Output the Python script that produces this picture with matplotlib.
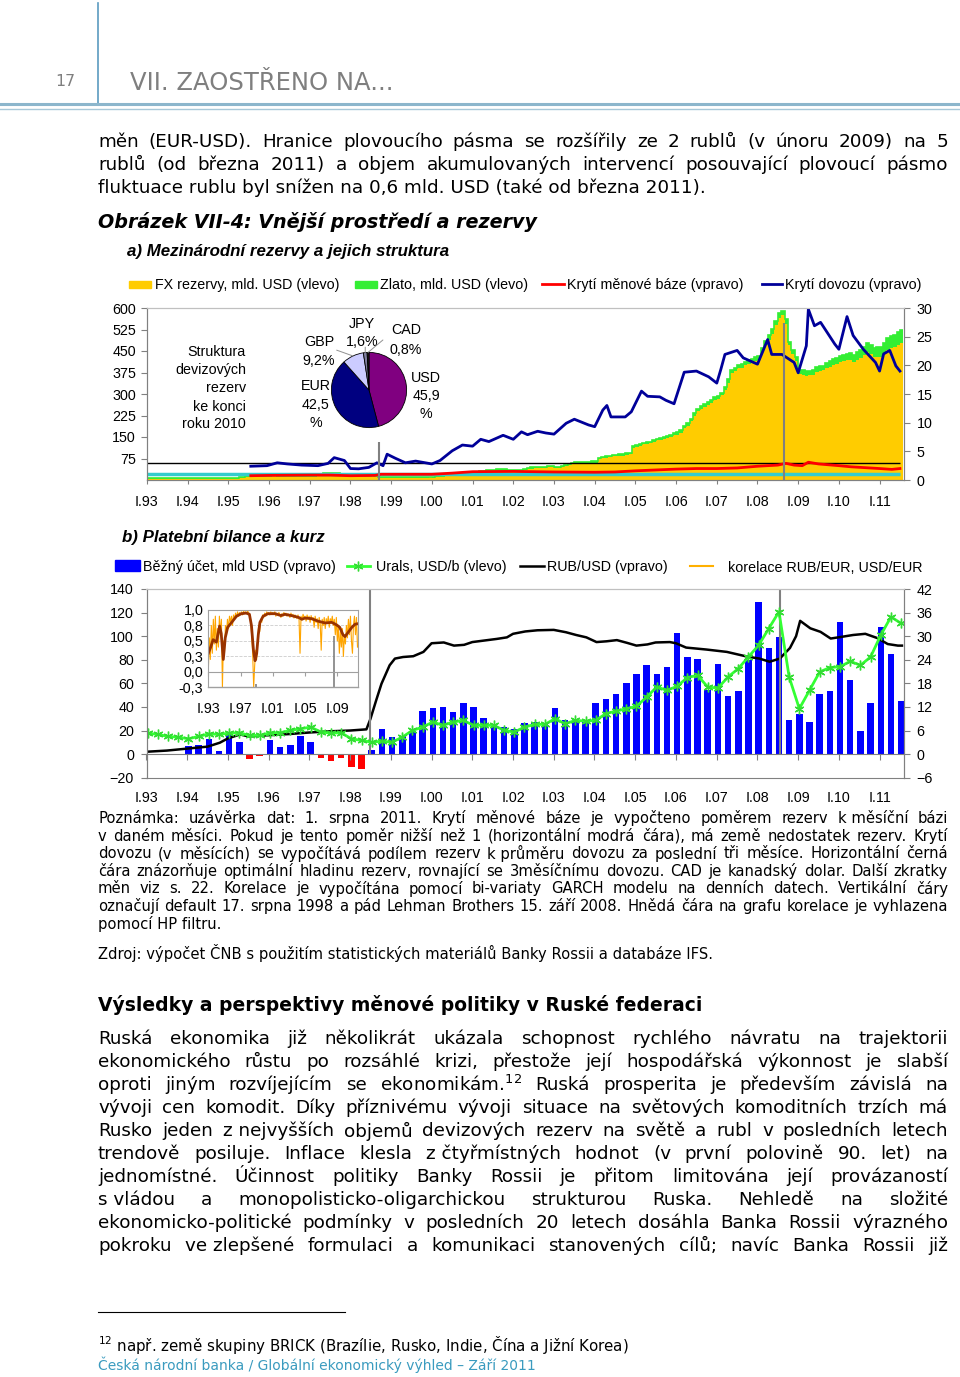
import matplotlib
matplotlib.use("Agg")
import matplotlib.pyplot as plt
import numpy as np
from matplotlib.lines import Line2D
from matplotlib.patches import Rectangle

W, H = 960, 1377
ARIAL = ["Liberation Sans", "DejaVu Sans"]
NARROW = ["Liberation Sans Narrow", "Liberation Sans", "DejaVu Sans"]
VERDANA = ["DejaVu Sans"]
CH = 10.3     # velikost pisma v grafech
BODY = 13.2   # velikost pisma textu
NOTE = 10.6   # velikost pisma poznamky

# ---------------- a) mezinarodni rezervy, mesicne od I.93 (mld. USD) ----------------
fx_rezervy = [
    2, 2, 2, 2, 2, 3, 3, 3, 3, 3, 3, 3,                       # 1993
    3, 3, 3, 3, 3, 3, 3, 3, 2, 2, 2, 2,                       # 1994
    2, 2, 4, 6, 8, 10, 11, 12, 11, 11, 11, 10,                # 1995
    12, 13, 12, 11, 10, 9, 9, 9, 9, 9, 10, 11,                # 1996
    11, 12, 13, 16, 19, 20, 20, 20, 19, 17, 16, 13,           # 1997
    13, 13, 13, 13, 12, 11, 13, 9, 8, 8, 8, 8,                # 1998
    8, 8, 7, 7, 7, 8, 8, 8, 8, 8, 8, 9,                       # 1999
    8, 9, 10, 12, 13, 14, 16, 18, 20, 21, 21, 24,             # 2000
    24, 25, 26, 28, 30, 31, 32, 33, 33, 33, 32, 32,           # 2001
    31, 31, 32, 34, 38, 40, 41, 41, 42, 43, 44, 44,           # 2002
    42, 43, 45, 48, 52, 56, 58, 58, 57, 57, 58, 60,           # 2003
    60, 72, 76, 78, 80, 82, 83, 84, 85, 88, 90, 112,          # 2004
    116, 120, 124, 125, 128, 132, 138, 140, 143, 146, 150, 156,  # 2005
    158, 165, 180, 190, 205, 225, 240, 248, 255, 262, 270, 280,  # 2006
    282, 295, 315, 340, 372, 380, 390, 392, 400, 405, 410, 415,  # 2007
    418, 445, 470, 490, 510, 540, 565, 575, 545, 470, 440, 414,  # 2008
    370, 368, 364, 366, 367, 378, 380, 382, 390, 395, 400, 404,  # 2009
    412, 415, 418, 420, 410, 418, 425, 435, 447, 440, 430, 430,  # 2010
    430, 440, 455, 462, 465, 472, 478,                        # 2011
]
zlato = [
    4, 4, 4, 4, 4, 4, 4, 4, 4, 4, 4, 4,
    4, 4, 4, 4, 4, 4, 4, 4, 4, 4, 4, 4,
    4, 4, 4, 4, 4, 4, 4, 4, 4, 4, 4, 4,
    4, 4, 4, 4, 4, 4, 4, 4, 4, 4, 4, 4,
    4, 4, 4, 4, 4, 4, 4, 4, 4, 4, 4, 4,
    4, 4, 4, 4, 4, 4, 4, 4, 4, 4, 4, 4,
    3, 3, 3, 3, 3, 3, 3, 3, 3, 3, 3, 3,
    4, 4, 4, 4, 4, 4, 4, 4, 4, 4, 4, 4,
    4, 4, 4, 4, 4, 4, 4, 4, 4, 4, 4, 4,
    4, 4, 4, 4, 4, 4, 4, 4, 4, 4, 4, 4,
    4, 4, 4, 4, 4, 4, 5, 5, 5, 5, 5, 5,
    5, 5, 5, 5, 5, 5, 5, 5, 5, 5, 5, 6,
    6, 6, 6, 6, 6, 6, 6, 6, 7, 7, 7, 7,
    8, 8, 8, 8, 9, 9, 9, 9, 9, 9, 10, 10,
    10, 10, 11, 11, 11, 11, 11, 11, 12, 13, 13, 13,
    15, 16, 16, 15, 16, 16, 16, 15, 15, 13, 13, 14,
    14, 14, 15, 15, 16, 16, 16, 17, 18, 19, 21, 22,
    22, 22, 23, 24, 26, 27, 27, 28, 30, 31, 32, 33,
    35, 37, 39, 40, 42, 44, 45,
]

# kryti dovozu (mesice) a kryti menove baze (vpravo)
kryti_dovozu_t = [1995.55, 1995.95, 1996.2, 1996.45, 1996.8, 1997.2, 1997.45, 1997.6, 1997.85,
                  1998.0, 1998.2, 1998.45, 1998.65, 1998.8, 1998.9, 1999.1, 1999.35, 1999.6,
                  2000.0, 2000.2, 2000.5, 2000.75, 2001.0, 2001.2, 2001.4, 2001.75, 2002.0,
                  2002.2, 2002.35, 2002.6, 2002.8, 2003.0, 2003.3, 2003.5, 2003.85, 2004.0,
                  2004.2, 2004.3, 2004.4, 2004.75, 2004.9, 2005.15, 2005.3, 2005.6, 2005.75,
                  2005.95, 2006.2, 2006.5, 2006.8, 2007.0, 2007.1, 2007.2, 2007.5, 2007.65,
                  2008.0, 2008.25, 2008.35, 2008.6, 2008.9, 2009.0, 2009.2, 2009.25, 2009.4,
                  2009.55, 2009.9, 2010.0, 2010.2, 2010.35, 2010.6, 2010.9, 2011.0, 2011.1,
                  2011.25, 2011.4, 2011.5]
kryti_dovozu = [2.4, 2.5, 3.0, 2.8, 2.6, 2.5, 2.9, 3.9, 3.4,
                2.0, 1.95, 2.2, 3.0, 2.5, 4.5, 3.8, 3.0, 3.3,
                2.8, 3.4, 5.1, 6.1, 5.9, 7.1, 6.7, 7.8, 7.1,
                8.4, 7.9, 8.5, 8.2, 8.0, 9.9, 10.6, 9.6, 9.3,
                12.2, 13.0, 11.0, 11.0, 11.9, 15.5, 14.6, 14.5, 13.9,
                13.3, 18.8, 19.0, 18.0, 16.9, 19.3, 21.9, 22.6, 21.3,
                20.2, 24.5, 21.9, 21.9, 20.5, 18.7, 23.4, 29.8, 26.9,
                27.5, 23.7, 22.8, 28.5, 25.2, 22.8, 20.5, 19.0, 22.0,
                22.6, 19.9, 19.0]
kryti_baze_t = [1995.55, 1996.0, 1997.0, 1997.5, 1998.0, 1998.6, 1998.75, 1999.0, 2000.0,
                2000.5, 2001.0, 2002.0, 2003.0, 2004.0, 2004.5, 2005.0, 2005.5, 2006.0,
                2006.5, 2007.0, 2007.5, 2008.0, 2008.5, 2008.7, 2008.9, 2009.1, 2009.25,
                2009.5, 2010.0, 2010.3, 2011.0, 2011.3, 2011.5]
kryti_baze = [0.75, 0.8, 0.85, 0.85, 0.75, 0.8, 1.0, 1.0, 1.0,
              1.2, 1.45, 1.5, 1.4, 1.35, 1.4, 1.6, 1.75, 1.9,
              2.0, 2.0, 2.1, 2.4, 2.6, 2.9, 2.6, 2.5, 3.1,
              2.8, 2.5, 2.3, 2.0, 1.85, 2.0]
MIN_KRYTI_BAZE = 1
OPT_KRYTI_DOVOZU = 3
konec_dat = 2011.5
udalosti_a = [1998.7, 2008.66]
udalosti_a_vyska = [6.7, 27.4]

pie_meny = ["USD", "EUR", "GBP", "JPY", "CAD"]
pie_podily = [45.9, 42.5, 9.2, 1.6, 0.8]
pie_barvy = ["#800080", "#000080", "#CCCCFF", "#7F7F9F", "#1A1A1A"]

# ---------------- b) platebni bilance a kurz ----------------
bezny_ucet = [  # ctvrtletne od I.94, mld USD
    2.0, 2.2, 3.9, 0.7,
    5.6, 3.0, -1.2, -0.6,
    3.5, 1.8, 2.2, 4.7,
    3.2, -1.0, -1.8, -1.0,
    -3.2, -3.9, 1.1, 6.3,
    4.3, 4.3, 5.6, 11.0,
    11.8, 12.0, 10.7, 13.0,
    11.9, 9.3, 7.7, 6.9,
    6.5, 8.0, 8.1, 8.0,
    11.7, 8.6, 8.1, 8.7,
    13.1, 13.9, 15.4, 18.2,
    20.3, 22.6, 20.3, 22.2,
    30.7, 24.6, 24.1, 16.2,
    23.0, 14.9, 16.1, 23.9,
    38.8, 27.1, 29.7, 8.7,
    10.1, 8.1, 15.2, 16.1,
    33.7, 18.8, 5.8, 13.1,
    32.4, 25.4, 13.5,
]
urals = [  # ctvrtletne od I.93, USD/b
    17.8, 16.7, 15.0, 14.4,
    13.0, 15.0, 17.2, 16.7,
    17.8, 18.1, 15.8, 15.8,
    18.1, 18.1, 20.1, 21.5,
    22.9, 18.8, 17.8, 18.1,
    13.0, 11.6, 10.1, 11.0,
    10.1, 14.4, 20.1, 22.9,
    27.2, 24.4, 27.2, 28.6,
    24.4, 24.4, 24.4, 20.1,
    18.7, 22.9, 25.2, 25.2,
    30.0, 25.7, 28.6, 28.0,
    28.6, 34.3, 36.5, 38.5,
    40.5, 48.4, 56.9, 54.1,
    57.5, 64.9, 66.8, 56.9,
    56.0, 65.4, 72.5, 82.4,
    92.3, 106.5, 120.7, 65.4,
    38.5, 54.1, 69.7, 73.4,
    74.1, 78.7, 75.3, 82.4,
    100.9, 116.4, 110.8,
]
rub_usd_t = [1993.0, 1993.5, 1994.0, 1994.5, 1994.8, 1995.0, 1995.3, 1995.5, 1996.0, 1996.5,
             1997.0, 1997.5, 1998.0, 1998.4, 1998.5, 1998.64, 1998.77, 1998.97, 1999.1, 1999.3,
             1999.55, 1999.8, 2000.0, 2000.3, 2000.55, 2000.8, 2001.0, 2001.3, 2001.6, 2001.85,
             2002.0, 2002.3, 2002.6, 2003.0, 2003.3, 2003.55, 2003.8, 2004.05, 2004.3, 2004.55,
             2004.8, 2005.03, 2005.3, 2005.5, 2005.85, 2006.0, 2006.25, 2006.75, 2007.25, 2007.75,
             2008.05, 2008.3, 2008.55, 2008.8, 2008.95, 2009.05, 2009.3, 2009.55, 2009.8, 2010.05,
             2010.35, 2010.65, 2010.95, 2011.2, 2011.45, 2011.55]
rub_usd = [0.6, 0.9, 1.4, 1.9, 2.9, 4.0, 5.0, 4.5, 4.8, 5.1,
           5.5, 5.8, 6.0, 6.3, 9.0, 13.7, 17.9, 22.6, 24.3, 24.7,
           24.9, 26.0, 28.2, 28.4, 27.6, 27.8, 28.5, 28.9, 29.3, 29.7,
           30.6, 31.2, 31.5, 31.6, 31.0, 30.3, 29.7, 28.5, 28.7, 29.0,
           28.3, 27.6, 27.9, 28.4, 28.5, 28.2, 27.1, 26.6, 26.0, 24.8,
           24.3, 23.5, 24.3, 27.0, 30.0, 33.9, 32.0, 31.1, 29.4, 29.8,
           30.3, 30.6, 29.5, 28.0, 27.6, 27.6]
udalosti_b = [1998.5, 2008.55]

# korelace RUB/EUR a USD/EUR (vlozeny graf)
korelace = [  # 8x rocne od I.93
    0.0, 0.55, 0.2, 0.75, 0.3, 0.85, 0.45, 0.9,
    0.35, 0.7, 0.4, 0.9, 0.6, 0.85, -0.25, 0.5,
    0.3, 0.75, 0.6, 0.85, 0.7, 0.9, 0.8, 0.9,
    0.75, 0.92, 0.85, 0.95, 0.88, 0.97, 0.9, 0.96,
    0.93, 0.97, 0.92, 0.98, 0.95, 0.97, 0.94, 0.98,
    0.96, 0.9, 0.85, 0.6, 0.3, -0.25, 0.1, 0.35,
    0.2, 0.55, 0.75, 0.65, 0.85, 0.8, 0.92, 0.88,
    0.95, 0.9, 0.97, 0.93, 0.96, 0.92, 0.97, 0.94,
    0.96, 0.93, 0.97, 0.9, 0.95, 0.92, 0.96, 0.93,
    0.88, 0.94, 0.9, 0.96, 0.92, 0.95, 0.9, 0.94,
    0.92, 0.88, 0.95, 0.9, 0.93, 0.87, 0.92, 0.9,
    0.86, 0.92, 0.85, 0.3, 0.9, 0.84, 0.93, 0.88,
    0.9, 0.82, 0.92, 0.85, 0.9, 0.8, 0.91, 0.84,
    0.88, 0.72, 0.9, 0.8, 0.86, 0.7, 0.88, 0.78,
    0.35, 0.85, 0.75, 0.88, 0.7, 0.86, 0.78, 0.9,
    0.72, 0.86, 0.8, 0.9, 0.75, 0.85, 0.6, 0.88,
    0.5, 0.75, 0.3, 0.65, 0.4, 0.7, 0.25, 0.6,
    0.45, 0.75, 0.55, 0.85, 0.6, 0.9, 0.5, 0.3,
    0.75, 0.9, 0.6, 0.88, 0.4,
]
korelace_hp_t = [1993.0, 1993.3, 1993.6, 1994.0, 1994.4, 1994.6, 1994.86, 1995.1, 1995.4, 1995.9,
                 1996.5, 1997.1, 1997.7, 1998.1, 1998.35, 1998.6, 1998.8, 1999.0, 1999.2, 1999.4,
                 1999.8, 2000.4, 2001.3, 2002.0, 2002.5, 2003.3, 2004.2, 2004.6, 2005.0, 2005.8,
                 2006.6, 2007.5, 2008.3, 2008.9, 2009.3, 2009.7, 2009.95, 2010.35, 2010.8, 2011.2,
                 2011.6]
korelace_hp = [0.30, 0.40, 0.52, 0.48, 0.74, 0.62, 0.20, 0.55, 0.72, 0.80,
               0.90, 0.94, 0.95, 0.93, 0.75, 0.35, 0.18, 0.30, 0.60, 0.80,
               0.90, 0.94, 0.94, 0.91, 0.93, 0.91, 0.88, 0.85, 0.87, 0.86,
               0.82, 0.79, 0.80, 0.76, 0.72, 0.60, 0.57, 0.64, 0.72, 0.77,
               0.78]
udalosti_kor = [1998.87, 2008.6]
udalosti_kor_vyska = [-0.19, 0.58]

roky = list(range(1993, 2012))
rok_popisky = ["I.%02d" % (r % 100) for r in roky]
kor_roky = [1993, 1997, 2001, 2005, 2009]
kor_y = [-0.25, 0.0, 0.25, 0.5, 0.75, 1.0]
kor_y_popisky = ["-0,3", "0,0", "0,3", "0,5", "0,8", "1,0"]

# ---------------- texty ----------------
uvod = [
    "měn (EUR-USD). Hranice plovoucího pásma se rozšířily ze 2 rublů (v únoru 2009) na 5",
    "rublů (od března 2011) a objem akumulovaných intervencí posouvající plovoucí pásmo",
    "fluktuace rublu byl snížen na 0,6 mld. USD (také od března 2011).",
]
poznamka = [
    "Poznámka: uzávěrka dat: 1. srpna 2011. Krytí měnové báze je vypočteno poměrem rezerv k~měsíční bázi",
    "v daném měsíci. Pokud je tento poměr nižší než 1 (horizontální modrá čára), má země nedostatek rezerv. Krytí",
    "dovozu (v měsících) se vypočítává podílem rezerv k~průměru dovozu za poslední tři měsíce. Horizontální černá",
    "čára znázorňuje optimální hladinu rezerv, rovnající se 3měsíčnímu dovozu. CAD je kanadský dolar. Další zkratky",
    "měn viz s. 22. Korelace je vypočítána pomocí bi-variaty GARCH modelu na denních datech. Vertikální čáry",
    "označují default 17. srpna 1998 a pád Lehman Brothers 15. září 2008. Hnědá čára na grafu korelace je vyhlazena",
    "pomocí HP filtru.",
]
odstavec = [
    "Ruská ekonomika již několikrát ukázala schopnost rychlého návratu na trajektorii",
    "ekonomického růstu po rozsáhlé krizi, přestože její hospodářská výkonnost je slabší",
    "oproti jiným rozvíjejícím se ekonomikám.$^{12}$ Ruská prosperita je především závislá na",
    "vývoji cen komodit. Díky příznivému vývoji situace na světových komoditních trzích má",
    "Rusko jeden z~nejvyšších objemů devizových rezerv na světě a rubl v posledních letech",
    "trendově posiluje. Inflace klesla z~čtyřmístných hodnot (v první polovině 90. let) na",
    "jednomístné. Účinnost politiky Banky Rossii je přitom limitována její provázaností",
    "s~vládou a monopolisticko-oligarchickou strukturou Ruska. Nehledě na složité",
    "ekonomicko-politické podmínky v posledních 20 letech dosáhla Banka Rossii výrazného",
    "pokroku ve~zlepšené formulaci a komunikaci stanovených cílů; navíc Banka Rossii již",
]

plt.rcParams["font.family"] = ARIAL
plt.rcParams["font.size"] = CH

fig = plt.figure(figsize=(W / 100, H / 100), dpi=100)
renderer = fig.canvas.get_renderer()


def rect(l, t, r, b):
    return [l / W, 1 - b / H, (r - l) / W, (b - t) / H]


def put(x, y, s, size, family=ARIAL, ha="left", va="center_baseline", **kw):
    return fig.text(x / W, 1 - y / H, s, fontsize=size, family=family, ha=ha, va=va, **kw)


def hline_px(x0, x1, y, **kw):
    fig.add_artist(Line2D([x0 / W, x1 / W], [1 - y / H, 1 - y / H], **kw))


def word_widths(words, size, family):
    arts = [put(0, 0, w.replace("~", " "), size, family) for w in words]
    widths = [a.get_window_extent(renderer).width for a in arts]
    for a in arts:
        a.remove()
    return widths


def fit_size(lines, size, x0=98, x1=948, family=VERDANA, min_gap=3.5):
    # jedna velikost pisma pro cely odstavec, aby se vsechny radky vesly
    while True:
        ok = True
        for line in lines:
            words = line.split(" ")
            gap = (x1 - x0 - sum(word_widths(words, size, family))) / (len(words) - 1)
            if gap < min_gap:
                ok = False
                break
        if ok:
            return size
        size *= 0.99


def justify(line, y, size, x0=98, x1=948, family=VERDANA):
    words = line.split(" ")
    widths = word_widths(words, size, family)
    gap = (x1 - x0 - sum(widths)) / (len(words) - 1)
    x = x0
    for w, wd in zip(words, widths):
        put(x, y, w.replace("~", " "), size, family)
        x += wd + gap


# ---------------- hlavicka ----------------
fig.add_artist(Line2D([98 / W, 98 / W], [1 - 3 / H, 1 - 104 / H], color="#5B9BC0", lw=1.2))
hline_px(0, 960, 104, color="#8CB6CC", lw=2.2)
hline_px(0, 960, 109, color="#A8C8D8", lw=1)
put(65, 80, "17", 11.3, VERDANA, ha="center", color="#7F7F7F")
put(130, 80, "VII. ZAOSTŘENO NA...", 17.5, VERDANA, color="#7F7F7F")

for i, line in enumerate(uvod):
    if i < len(uvod) - 1:
        justify(line, 140 + 23 * i, BODY)
    else:
        put(98, 140 + 23 * i, line, BODY, VERDANA)

put(98, 220, "Obrázek VII-4: Vnější prostředí a rezervy", 13.8, VERDANA,
    weight="bold", style="italic")
put(127, 250, "a) Mezinárodní rezervy a jejich struktura", 12.2, NARROW,
    weight="bold", style="italic")

# ---------------- graf a) ----------------
ax = fig.add_axes(rect(147, 308, 904, 480))
fx_arr = np.array(fx_rezervy, dtype=float)
zl_arr = np.array(zlato, dtype=float)
hrany = 1993 + np.arange(len(fx_arr) + 1) / 12
ax.stairs(fx_arr, hrany, baseline=0, fill=True, color="#FFCC00", lw=0)
ax.stairs(fx_arr + zl_arr, hrany, baseline=fx_arr, fill=True, color="#33EE33", lw=0)
ax.stairs(fx_arr + zl_arr, hrany, baseline=None, color="#33EE33", lw=1.2)
ax.set_xlim(1993, 2011.6)
ax.set_ylim(0, 600)
ax.set_yticks([75, 150, 225, 300, 375, 450, 525, 600])
ax.set_xticks(roky)
ax.set_xticklabels(rok_popisky)
ax.tick_params(axis="x", length=3, pad=7.8, color="#808080")
ax.tick_params(axis="y", length=4, pad=4, color="#808080")

ax2 = ax.twinx()
ax2.hlines(MIN_KRYTI_BAZE, 1993, konec_dat, color="#33CCCC", lw=2.5)
ax2.hlines(OPT_KRYTI_DOVOZU, 1993, konec_dat, color="black", lw=1)
ax2.plot(kryti_baze_t, kryti_baze, color="#FF0000", lw=2)
ax2.plot(kryti_dovozu_t, kryti_dovozu, color="#000099", lw=2)
ax2.vlines(udalosti_a, 0, udalosti_a_vyska, color="#808080", lw=1.5)
ax2.set_ylim(0, 30)
ax2.set_yticks([0, 5, 10, 15, 20, 25, 30])
ax2.tick_params(axis="y", length=4, pad=5, color="#808080")
for a in (ax, ax2):
    for s in a.spines.values():
        s.set_color("#808080")
    a.spines["top"].set_color("#C0C0C0")

# kolac struktury rezerv
R = 37.6
pax = fig.add_axes(rect(369 - R * 1.05, 390 - R * 1.05, 369 + R * 1.05, 390 + R * 1.05))
wedges, _ = pax.pie(pie_podily, colors=pie_barvy, startangle=90, counterclock=False,
                    wedgeprops=dict(edgecolor="black", linewidth=0.6))
pax.set_xlim(-1.05, 1.05)
pax.set_ylim(-1.05, 1.05)
pax.set_zorder(5)
for idx, (tx, ty) in zip([2, 3, 4], [(-0.86, 1.06), (-0.1, 1.14), (0.37, 1.33)]):
    w = wedges[idx]
    th = np.deg2rad((w.theta1 + w.theta2) / 2)
    pax.annotate("", xy=(np.cos(th), np.sin(th)), xytext=(tx, ty),
                 arrowprops=dict(arrowstyle="-", color="#909090", lw=0.7, shrinkA=0, shrinkB=0),
                 annotation_clip=False)
pie_popisky = [
    (319, [(340.7, "GBP"), (359, "9,2%")]),
    (362, [(323, "JPY"), (340.7, "1,6%")]),
    (406, [(329, "CAD"), (348, "0,8%")]),
    (426, [(376, "USD"), (395, "45,9"), (412.7, "%")]),
    (316, [(385, "EUR"), (403.7, "42,5"), (421.7, "%")]),
]
for x, rows in pie_popisky:
    for y, s in rows:
        put(x, y, s, CH, ha="center")
for y, s in zip([351, 369, 387, 405, 423],
                ["Struktura", "devizových", "rezerv", "ke konci", "roku 2010"]):
    put(246, y, s, CH, ha="right")

# legenda a)
fig.add_artist(Rectangle((129 / W, 1 - 288.3 / H), 22 / W, 7.6 / H, color="#FFCC00"))
put(155, 284, "FX rezervy, mld. USD (vlevo)", CH)
fig.add_artist(Rectangle((355 / W, 1 - 288.3 / H), 22 / W, 7.6 / H, color="#33EE33"))
put(380, 284, "Zlato, mld. USD (vlevo)", CH)
hline_px(541.7, 564, 284, color="#FF0000", lw=2)
put(567, 284, "Krytí měnové báze (vpravo)", CH)
hline_px(761.7, 782, 284, color="#000099", lw=2)
put(785, 284, "Krytí dovozu (vpravo)", CH)

# ---------------- graf b) ----------------
put(122, 536, "b) Platební bilance a kurz", 12.2, weight="bold", style="italic")

bx = fig.add_axes(rect(146.5, 589, 904, 777.7))
bx2 = bx.twinx()
bx.set_zorder(bx2.get_zorder() + 1)
bx.patch.set_visible(False)

ucet_t = 1994.03 + 0.25 * np.arange(len(bezny_ucet))
ucet_barvy = ["#0000FF" if v >= 0 else "#FF0000" for v in bezny_ucet]
bx2.bar(ucet_t, bezny_ucet, width=0.16, color=ucet_barvy, lw=0)
bx2.plot(rub_usd_t, rub_usd, color="black", lw=1.8)
bx2.vlines(udalosti_b, 0, 42, color="#808080", lw=1.5)
bx2.set_ylim(-6, 42)
bx2.set_yticks(range(-6, 43, 6))
bx2.tick_params(axis="y", length=4, pad=5, color="#808080")

urals_t = 1993.03 + 0.25 * np.arange(len(urals))
bx.plot(urals_t, urals, color="#33FF33", lw=2, marker=(6, 2, 0), ms=7, mec="#33DD33", mew=1)
bx.set_xlim(1993, 2011.6)
bx.set_ylim(-20, 140)
bx.set_yticks(range(-20, 141, 20))
bx.set_xticks(roky)
bx.set_xticklabels(rok_popisky)
bx.spines["bottom"].set_position(("data", 0))
bx.tick_params(axis="x", length=4, pad=22.5, color="#808080")
bx.tick_params(axis="y", length=4, pad=5, color="#808080")
for a in (bx, bx2):
    for s in a.spines.values():
        s.set_color("#808080")
    a.spines["top"].set_color("#C0C0C0")

# vlozeny graf korelace
ix = fig.add_axes(rect(208.3, 610, 358.3, 687.3))
ix.set_zorder(bx.get_zorder() + 1)
ix.patch.set_facecolor("white")
kor_t = 1993 + np.arange(len(korelace)) / 8
ix.yaxis.grid(True, ls="--", color="#CCCCCC", lw=0.6)
ix.set_axisbelow(True)
ix.plot(kor_t, korelace, color="#FFA500", lw=0.8)
ix.plot(korelace_hp_t, korelace_hp, color="#993300", lw=2)
ix.vlines(udalosti_kor, -0.25, udalosti_kor_vyska, color="#808080", lw=1.2)
ix.set_xlim(1993, 2011.6)
ix.set_ylim(-0.25, 1.0)
ix.set_yticks(kor_y)
ix.set_yticklabels(kor_y_popisky)
ix.set_xticks(kor_roky)
ix.set_xticklabels(["I.%02d" % (r % 100) for r in kor_roky])
ix.spines["bottom"].set_position(("data", 0))
ix.plot([0, 1], [0, 0], transform=ix.transAxes, color="#A0A0A0", lw=1, clip_on=False)
for s in ix.spines.values():
    s.set_color("#A0A0A0")
ix.tick_params(axis="y", length=0, pad=3.6)
ix.tick_params(axis="x", length=3, pad=18.5, color="#A0A0A0")

# legenda b)
fig.add_artist(Rectangle((115 / W, 1 - 570.7 / H), 25 / W, 10.7 / H, color="#0000FF"))
put(143, 566, "Běžný účet, mld USD (vpravo)", CH)
fig.add_artist(Line2D([346.7 / W, 370 / W], [1 - 566 / H] * 2, color="#33FF33", lw=2))
fig.add_artist(Line2D([358.3 / W], [1 - 566 / H], color="#33FF33", marker=(6, 2, 0), ms=7,
                      mec="#33DD33", mew=1))
put(376, 566, "Urals, USD/b (vlevo)", CH)
hline_px(520, 544, 566, color="black", lw=1.8)
put(547, 566, "RUB/USD (vpravo)", CH)
hline_px(690, 713, 566, color="#FFB000", lw=1.5)
put(728, 566, "korelace RUB/EUR, USD/EUR", CH)

# ---------------- poznamky a text ----------------
note_size = fit_size(poznamka[:-1], NOTE)
for i, line in enumerate(poznamka):
    y = 817 + 17.6 * i
    if i < len(poznamka) - 1:
        justify(line, y, note_size)
    else:
        put(98, y, line, note_size, VERDANA)
put(98, 951, "Zdroj: výpočet ČNB s použitím statistických materiálů Banky Rossii a databáze IFS.",
    note_size, VERDANA)

put(98, 1003, "Výsledky a perspektivy měnové politiky v Ruské federaci", 13.5, VERDANA,
    weight="bold")
body_size = fit_size(odstavec, BODY)
for i, line in enumerate(odstavec):
    justify(line, 1037 + 23 * i, body_size)

hline_px(98, 345, 1312, color="black", lw=0.8)
put(98, 1343, r"$^{12}$ např. země skupiny BRICK (Brazílie, Rusko, Indie, Čína a Jižní Korea)",
    10.8, VERDANA)
put(98, 1363, "Česká národní banka / Globální ekonomický výhled – Září 2011", 10.0, VERDANA,
    color="#3A9BBF")

fig.savefig("out.png", dpi=100)
